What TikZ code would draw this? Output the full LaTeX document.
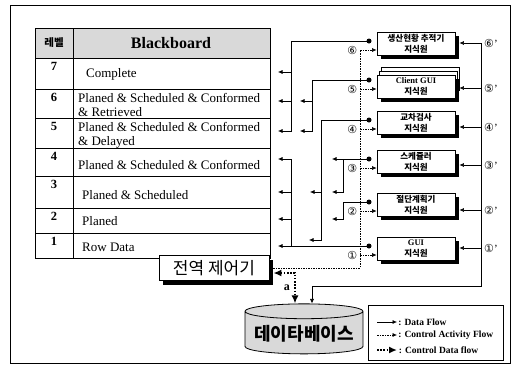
\documentclass[tikz,border=0pt]{standalone}
\usepackage{fontspec}
\setmainfont{Liberation Serif}
\newfontfamily\ko{Noto Sans CJK KR}
\newfontfamily\cir{DejaVu Sans}
\usetikzlibrary{arrows.meta, positioning, shapes.geometric}

\begin{document}
\begin{tikzpicture}[
        x=1pt, y=-1pt,
        ksbox/.style={draw, thick, fill=white, minimum width=78pt, minimum height=23pt,
            inner sep=1pt, align=center, font=\ko\bfseries\fontsize{8.5}{11}\selectfont},
        dataflow/.style={-{Latex[length=4.5pt, width=4pt]}, semithick},
        ctrlline/.style={semithick, dash pattern=on 1.5pt off 1.5pt on 0.5pt off 1.5pt},
        ctrlflow/.style={ctrlline, -{Latex[length=4.5pt, width=4pt]}},
        ctrldata/.style={line width=1.6pt, dash pattern=on 1.6pt off 1.6pt, -{Latex[length=8pt, width=7pt]}},
        srcdot/.style={circle, fill, inner sep=0pt, minimum size=5pt},
        cnum/.style={inner sep=0pt, font=\fontsize{11}{11}\selectfont},
        rowtxt/.style={anchor=west, align=left, inner sep=0pt, font=\fontsize{13}{14}\selectfont},
        rownum/.style={anchor=north, inner sep=0pt, font=\bfseries\fontsize{12.5}{14}\selectfont},
        legtxt/.style={anchor=west, inner sep=1pt, font=\bfseries\fontsize{9.5}{11}\selectfont}
    ]
    \useasboundingbox (0,0) rectangle (516,378);
    \draw[semithick] (10,5) rectangle (510,363);

    % blackboard table
    \fill[black!15] (35,28) rectangle (270,58);
    \draw[thick] (35,28) rectangle (270,258);
    \draw[thick] (73,28) -- (73,258);
    \foreach \yy in {58,89,118,148,176,208,233}
        \draw[semithick] (35,\yy) -- (270,\yy);
    \node[font=\ko\bfseries\fontsize{10.5}{11}\selectfont] (lvhead) at (54,43) {레벨};
    \node[font=\bfseries\fontsize{16}{16}\selectfont] (bbhead) at (171,43) {Blackboard};
    \foreach \n/\yt/\xc/\yc/\txt in {7/58/86/74/Complete,
            6/89/78/105/{Planed \& Scheduled \& Conformed\\\& Retrieved},
            5/118/78/135/{Planed \& Scheduled \& Conformed\\\& Delayed},
            4/148/78/165/Planed \& Scheduled \& Conformed,
            3/176/82/195/Planed \& Scheduled,
            2/208/82/221/Planed,
            1/233/82/247/Row Data}{
        \node[rownum] (lv\n) at (54,\yt+4) {\n};
        \node[rowtxt] (bb\n) at (\xc,\yc) {\txt};
    }

    % global controller and database
    \fill[black] (163,259.5) rectangle (273,284.5);
    \node[draw, thick, fill=white, minimum width=110pt, minimum height=25pt,
        font=\ko\fontsize{17}{17}\selectfont] (gc) at (214,268) {전역 제어기};
    \node[cylinder, shape border rotate=90, draw, thick, aspect=0.14, fill=black!15,
        minimum width=118pt, minimum height=50pt,
        font=\ko\bfseries\fontsize{18}{18}\selectfont] (db) at (304,334) {데이타베이스};

    % knowledge sources
    \draw[thick, fill=white] (381,67) rectangle (459,90);
    \draw[thick, fill=white] (379,71) rectangle (457,94);
    \foreach \yc in {43.5,86.5,122.5,161.5,204.5,248.5}
        \fill[black] (381,\yc-7.5) rectangle (459,\yc+15.5);
    \node[ksbox] (ks6) at (416,43.5) {생산현황 추적기\\지식원};
    \node[ksbox] (ks5) at (416,86.5) {{\rmfamily\bfseries Client GUI}\\지식원};
    \node[ksbox] (ks4) at (416,122.5) {교차검사\\지식원};
    \node[ksbox] (ks3) at (416,161.5) {스케쥴러\\지식원};
    \node[ksbox] (ks2) at (416,204.5) {절단계획기\\지식원};
    \node[ksbox] (ks1) at (416,248.5) {{\rmfamily\bfseries GUI}\\지식원};

    % data flow to the blackboard
    \foreach \k/\yy in {6/41, 5/80, 4/120, 3/159, 2/202, 1/246}
        \node[srcdot] (d\k) at (369,\yy) {};
    \foreach \r/\yy in {7/72, 6/101, 5/131, 4/159, 3/192, 2/219, 1/246}
        \coordinate (t\r) at (278,\yy);
    \coordinate (t1x) at (309,240);
    \draw[dataflow] (d6.center) -| ([xshift=13pt]t5) -- (t5);
    \foreach \r in {7,6}
        \draw[dataflow] ([xshift=13pt]t\r) -- (t\r);
    \draw[dataflow] (d5.center) -| ([xshift=34pt]t5) -- ([xshift=22pt]t5);
    \draw[dataflow] ([xshift=34pt]t6) -- ([xshift=22pt]t6);
    \draw[dataflow] (d4.center) -| ([xshift=12pt]t1x) -- (t1x);
    \draw[dataflow] ([xshift=43pt]t3) -- ([xshift=32pt]t3);
    \draw[dataflow] (d3.center) -- ([xshift=54pt]t4);
    \draw[dataflow] ([xshift=65pt]t4) |- ([xshift=54pt]t3);
    \draw[dataflow] (d2.center) -| ([xshift=65pt]t2) -- ([xshift=54pt]t2);
    \draw[dataflow] (d1.center) -- (t1);
    \draw[semithick] ([xshift=13pt]t1) -- ([xshift=13pt]t4);
    \foreach \r in {4,3,2}
        \draw[dataflow] ([xshift=13pt]t\r) -- (t\r);

    % control activity from the global controller
    \foreach \k/\yy/\sy in {6/50/⑥, 5/89/⑤, 4/129/④, 3/168/③, 2/211/②, 1/255/①}{
        \coordinate (c\k) at (360,\yy);
        \draw[ctrlflow] (c\k) -- (ks\k.west |- c\k);
        \node[cnum, left=2.5pt of c\k] (n\k) {\cir\sy};
    }
    \draw[ctrlline] ([xshift=4pt]gc.east) -| (c6);

    % data from the database to the knowledge sources
    \foreach \k/\yy/\sy in {6/43/⑥, 5/88/⑤, 4/127/④, 3/165/③, 2/210/②, 1/248/①}{
        \coordinate (p\k) at (481,\yy);
        \draw[dataflow] (p\k) -- ([xshift=4pt]ks\k.east |- p\k);
        \node[cnum, right=3pt of p\k] (m\k) {{\cir\sy}'};
    }
    \coordinate (pcorner) at (481,286);
    \draw[dataflow] (p6) -- (pcorner) -| ([xshift=8pt]db.north);

    % control data between controller and database
    \draw[ctrldata, {Latex[length=8pt, width=7pt]}-{Latex[length=8pt, width=7pt]}]
        ([xshift=4pt, yshift=-5pt]gc.east) -| ([xshift=-9pt]db.north)
        node[pos=0.75, left=1pt, font=\bfseries\fontsize{12}{12}\selectfont] {a};

    % legend
    \node[draw, semithick, minimum width=135pt, minimum height=55pt] (legend) at (435.5,332.5) {};
    \foreach \st/\yy/\txt in {dataflow/322/Data Flow, ctrlflow/335/Control Activity Flow,
            ctrldata/350/Control Data flow}{
        \coordinate (l\yy) at (377,\yy);
        \draw[\st] (l\yy) -- ++(20,0) node[legtxt] {: \txt};
    }
\end{tikzpicture}
\end{document}
